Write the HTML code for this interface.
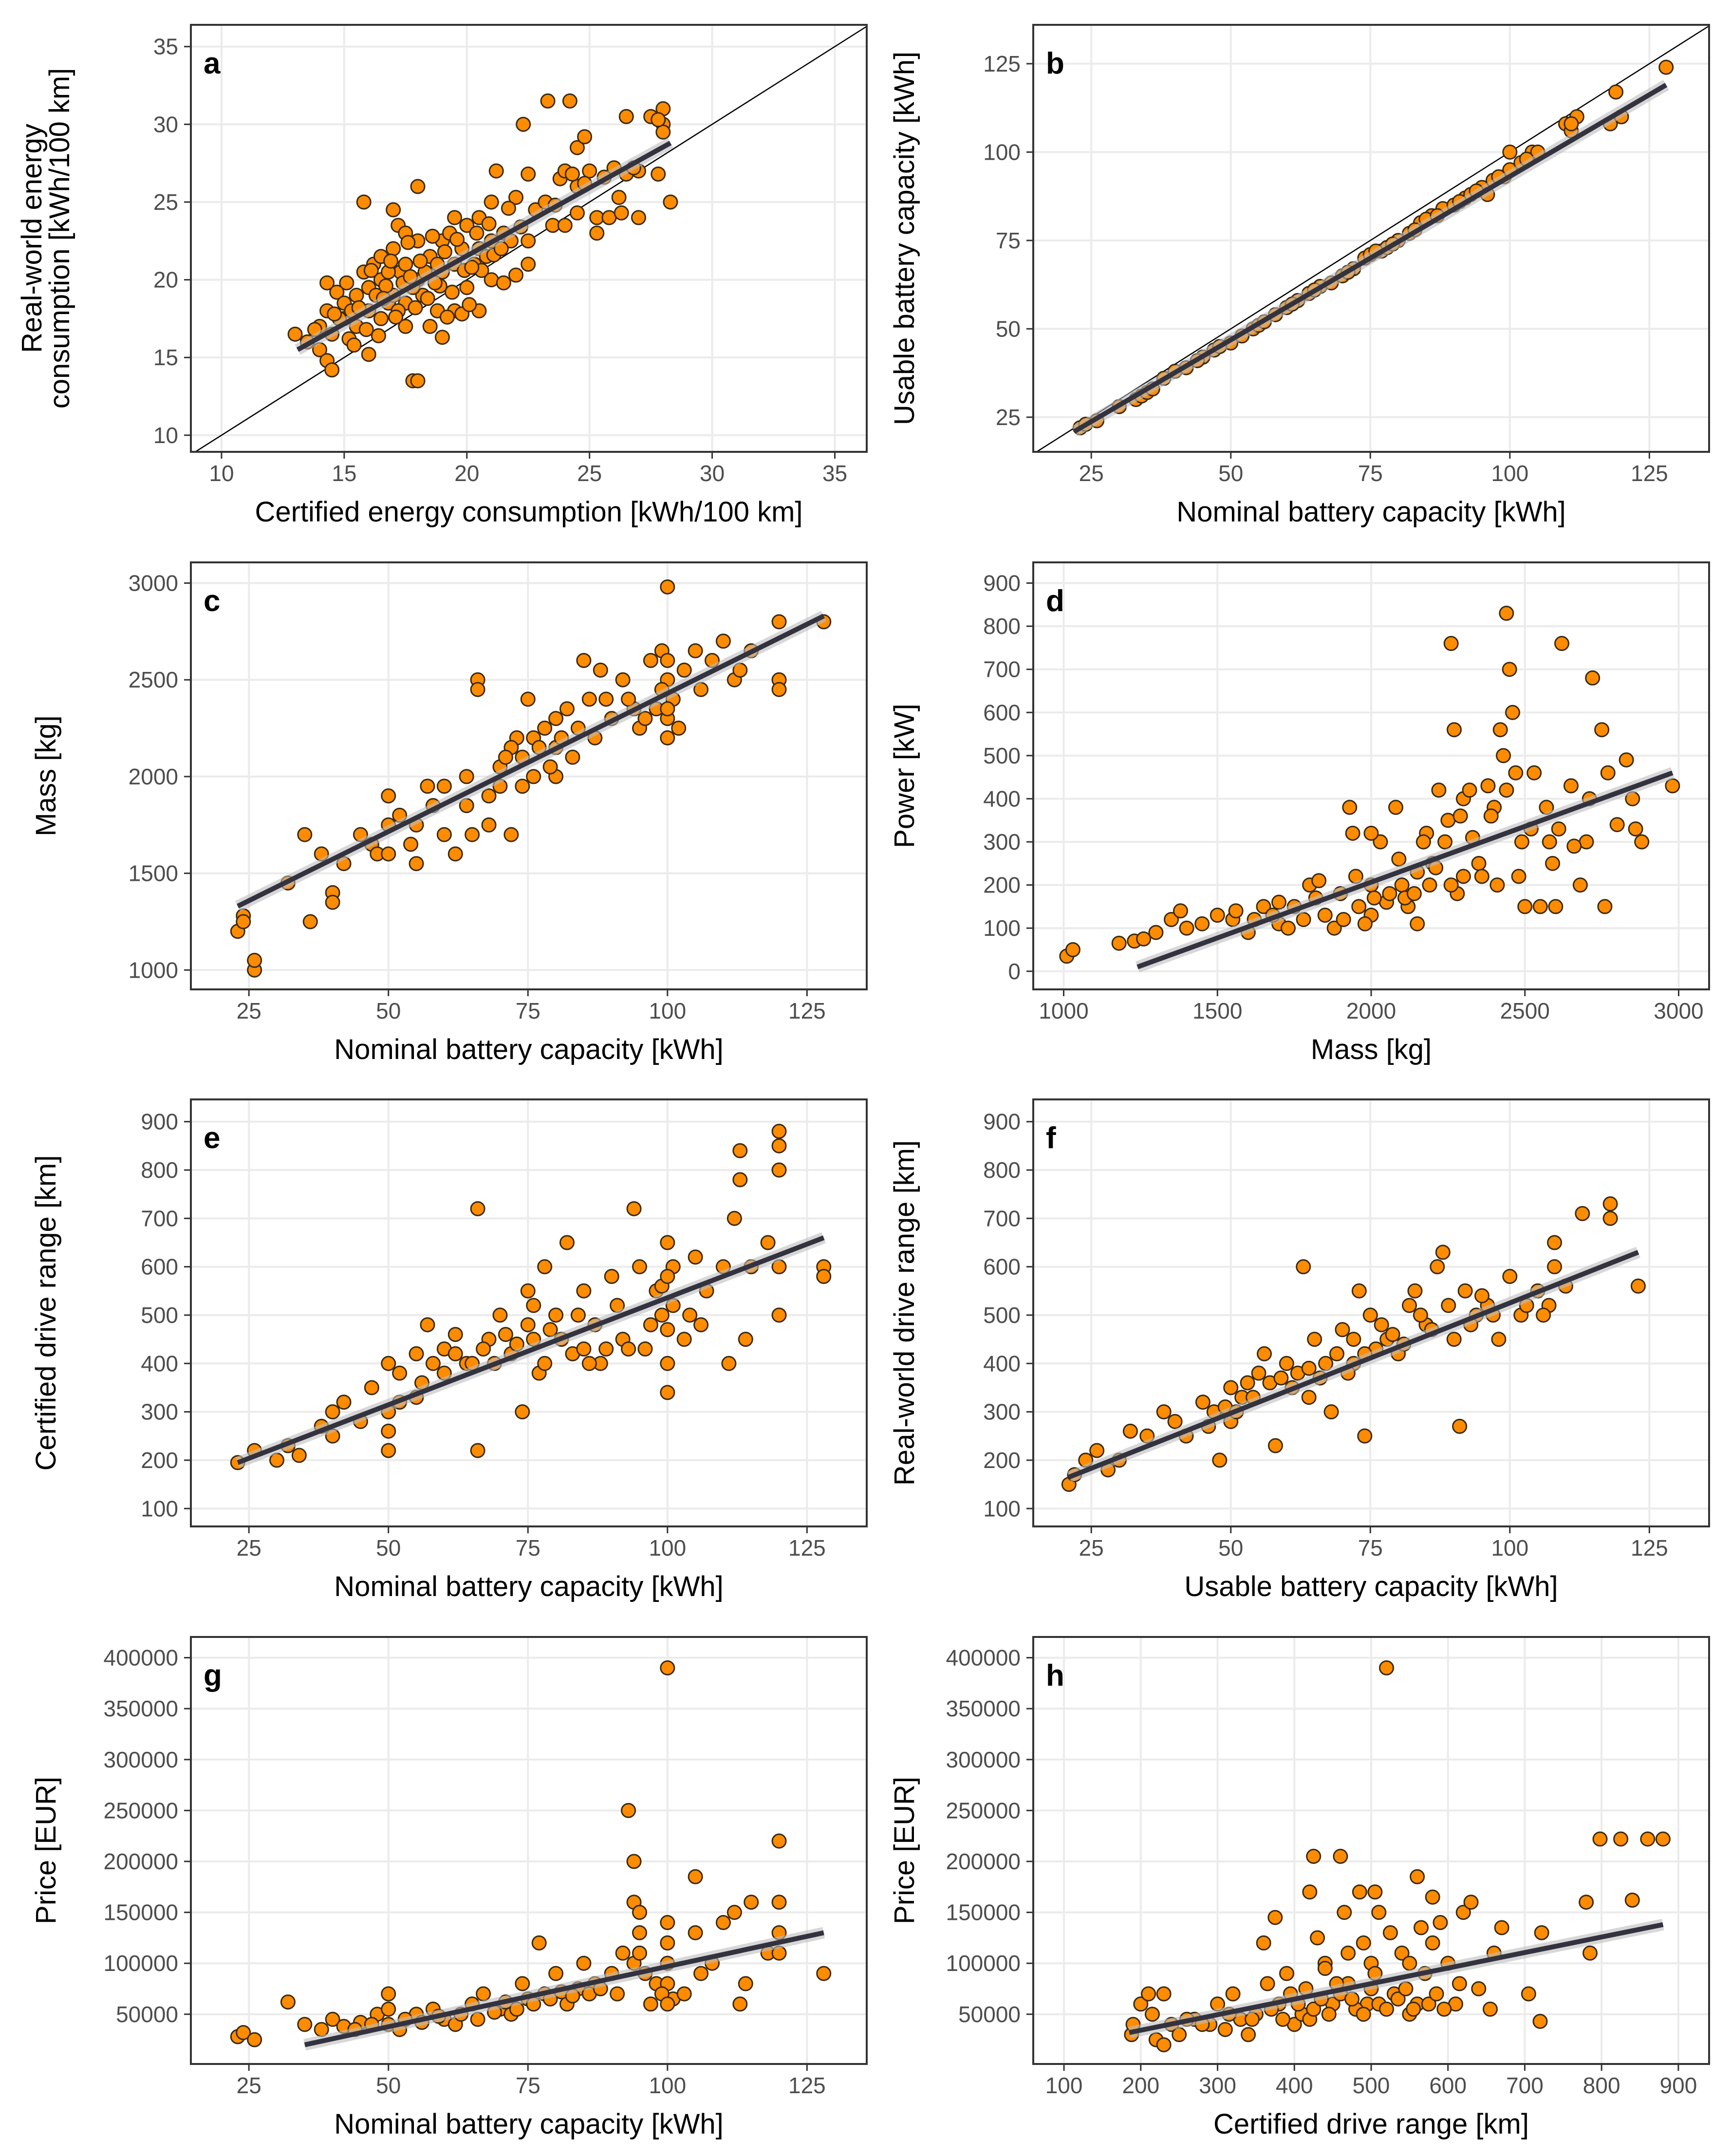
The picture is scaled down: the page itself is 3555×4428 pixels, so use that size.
<!DOCTYPE html>
<html><head><meta charset="utf-8"><style>
html,body{margin:0;padding:0;background:#fff;}
svg{display:block;}
text{font-family:"Liberation Sans Narrow","Liberation Sans",sans-serif;}
</style></head><body>
<svg id="fig" width="3555" height="4428" viewBox="0 0 3555 4428" xmlns="http://www.w3.org/2000/svg"></svg>
<script>
const ptsA=[[13,16.5],[13.5,16],[14,17],[14,15.5],[14.3,14.8],[14.5,14.2],[14.5,16.5],[14.3,18],[14.3,19.8],[14.7,19.2],[15,17.5],[15,18.5],[15.2,16.2],[15.5,17],[15.5,19],[15.8,20.5],[15.8,25],[16,15.2],[16,18],[16,19.5],[16.2,21],[16.5,17.5],[16.5,20],[16.5,21.5],[16.8,18.5],[17,19],[17,24.5],[17,22],[17.2,23.5],[17.3,20.5],[17.5,17],[17.5,18.5],[17.5,21],[17.5,23],[17.8,13.5],[18,13.5],[18,26],[18,20],[18,22.5],[18.2,19],[18.5,21.5],[18.5,17],[18.8,18],[19,16.3],[19,20.5],[19,22.5],[19.3,23],[19.5,24],[19.5,21],[19.5,18],[19.8,17.8],[20,19.5],[20,23.5],[20.3,21],[20.5,18],[20.5,22],[20.5,24],[21,20],[21,22.5],[21,25],[21.2,27],[21.5,19.8],[21.5,23],[21.8,22.5],[22,20.3],[22,25.3],[22.3,30],[22.5,21],[22.5,22.5],[22.5,26.8],[23.3,31.5],[23.5,23.5],[23.8,26.5],[24,27],[24,23.5],[24.2,31.5],[24.5,24.3],[24.5,26],[24.5,28.5],[24.8,29.2],[25,27],[25.3,24],[25.3,23],[25.8,24],[26,27.2],[26.2,25.3],[26.3,24.3],[26.5,30.5],[26.5,26.8],[27,27],[27,24],[27.5,30.5],[27.8,26.8],[28,31],[28,30],[28,29.5],[28.3,25],[27.8,30.3],[15.3,18],[16.8,20.5],[17.8,19.5],[18.8,21],[19.8,22],[20.8,21.5],[16.3,19],[14.8,17.5],[17.2,18],[18.3,20.5],[13.8,16.8],[14.6,17.8],[15.1,19.8],[15.6,18.2],[15.9,16.8],[16.1,20.6],[16.4,16.4],[16.7,19.6],[16.9,21.2],[17.1,17.6],[17.4,19.8],[17.6,22.4],[17.9,18.2],[18.1,21.2],[18.4,18.8],[18.6,22.8],[18.9,19.6],[19.1,21.8],[19.4,19.2],[19.6,22.6],[19.9,20.6],[20.1,18.4],[20.4,23],[20.6,20.6],[20.9,23.6],[21.1,21.6],[21.4,22],[21.7,24.6],[22.2,23.4],[22.8,24.5],[23.2,25],[23.6,24.8],[24.3,26.8],[24.8,26.2],[25.6,26.6],[26.8,27.2],[15.4,15.8],[16.6,18.8],[17.7,20.2],[18.7,19.8],[19.2,17.6],[20.2,20.8]];
const fitA=[[13.1,15.5],[28.3,28.8]];
const ptsB=[[23,22],[24,23],[26,24],[30,28],[33,30],[34,31],[35,32],[38,36],[40,38],[42,39],[45,42],[47,44],[50,46],[52,48],[54,50],[55,51],[58,54],[60,56],[62,58],[64,60],[66,62],[68,63],[70,65],[72,67],[74,70],[75,71],[77,72],[78,73],[80,75],[82,77],[84,80],[86,82],[88,84],[90,85],[92,87],[93,88],[95,90],[97,92],[99,93],[100,95],[100,100],[102,97],[104,100],[105,100],[110,108],[111,106],[112,110],[118,108],[119,117],[120,110],[128,124],[111,108],[96,88],[85,81],[36,33],[44,41],[48,45],[56,52],[61,57],[65,61],[71,66],[76,72],[79,74],[83,78],[87,82],[91,86],[94,89],[98,93],[103,98]];
const fitB=[[22,21],[128,119]];
const ptsC=[[23,1200],[24,1280],[24,1250],[26,1000],[26,1050],[32,1450],[35,1700],[36,1250],[38,1600],[40,1400],[40,1350],[42,1550],[45,1700],[47,1650],[48,1600],[50,1900],[50,1750],[50,1600],[52,1800],[54,1650],[55,1550],[55,1750],[57,1950],[58,1850],[60,1950],[60,1700],[62,1600],[64,2000],[65,1700],[66,2500],[66,2450],[68,1750],[70,2050],[70,1950],[72,1700],[73,2200],[74,2100],[75,2400],[76,2000],[76,2200],[78,2250],[80,2300],[80,2150],[82,2350],[83,2100],[85,2600],[86,2400],[87,2200],[88,2550],[90,2300],[92,2500],[94,2350],[95,2250],[97,2600],[99,2650],[100,2980],[100,2500],[100,2300],[100,2200],[101,2400],[102,2250],[103,2550],[105,2650],[106,2450],[108,2600],[110,2700],[112,2500],[113,2550],[115,2650],[120,2800],[120,2500],[120,2450],[128,2800],[80,2000],[72,2150],[64,1850],[68,1900],[71,2100],[74,1950],[77,2150],[79,2050],[81,2200],[84,2250],[89,2400],[93,2400],[98,2350],[99,2450],[100,2600],[100,2350],[96,2300]];
const fitC=[[23,1330],[128,2830]];
const ptsD=[[1010,35],[1030,50],[1180,65],[1230,70],[1260,75],[1300,90],[1350,120],[1380,140],[1400,100],[1450,110],[1500,130],[1550,120],[1600,90],[1650,150],[1700,110],[1750,150],[1800,200],[1820,170],[1850,130],[1900,180],[1930,380],[1950,220],[2000,200],[2000,130],[2030,300],[2050,160],[2080,380],[2100,200],[2120,150],[2150,230],[2180,320],[2200,250],[2220,420],[2250,350],[2260,760],[2270,560],[2280,180],[2300,400],[2330,310],[2350,250],[2380,430],[2400,380],[2420,560],[2430,500],[2440,830],[2450,700],[2460,600],[2470,460],[2480,220],[2500,150],[2520,330],[2550,150],[2580,300],[2600,150],[2620,760],[2650,430],[2680,200],[2700,300],[2720,680],[2750,560],[2760,150],[2770,460],[2800,340],[2830,490],[2850,400],[2860,330],[2880,300],[2980,430],[2150,110],[1700,160],[2300,220],[1560,140],[1620,120],[1680,130],[1730,100],[1780,120],[1830,210],[1880,100],[1960,150],[1980,110],[2010,170],[2060,180],[2090,260],[2110,170],[2140,180],[2170,300],[2190,200],[2210,240],[2240,300],[2260,200],[2290,360],[2320,420],[2360,220],[2390,360],[2410,200],[2440,420],[2490,300],[2530,460],[2570,380],[2590,250],[2610,330],[2660,290],[2710,400],[1910,120],[1940,320],[2000,320]];
const fitD=[[1240,10],[2980,460]];
const ptsE=[[23,195],[26,220],[30,200],[32,230],[34,210],[38,270],[40,300],[40,250],[42,320],[45,280],[47,350],[50,400],[50,300],[50,220],[52,380],[55,420],[55,330],[57,480],[58,400],[60,430],[62,460],[64,400],[66,720],[66,220],[68,450],[70,500],[72,420],[74,300],[75,550],[76,450],[77,380],[78,600],[80,500],[82,650],[83,420],[85,550],[87,480],[88,400],[90,580],[92,450],[94,720],[95,600],[96,430],[98,550],[99,500],[100,650],[100,400],[100,340],[101,600],[103,450],[105,620],[107,550],[110,600],[112,700],[113,840],[113,780],[114,450],[115,600],[118,650],[120,880],[120,850],[120,800],[120,600],[120,500],[128,600],[128,580],[65,400],[85,430],[50,260],[52,320],[56,360],[60,380],[62,420],[67,430],[69,400],[71,460],[73,440],[75,480],[76,520],[78,400],[79,470],[81,450],[84,500],[86,400],[89,430],[91,520],[93,430],[97,480],[99,560],[100,580],[100,470],[101,520],[104,500],[106,480],[111,400]];
const fitE=[[23,195],[128,660]];
const ptsF=[[21,150],[22,170],[24,200],[26,220],[28,180],[30,200],[32,260],[35,250],[38,300],[40,280],[42,250],[45,320],[47,300],[48,200],[50,350],[50,280],[52,330],[55,380],[56,420],[57,360],[58,230],[60,400],[62,380],[63,600],[64,330],[65,450],[67,400],[68,300],[70,470],[72,400],[73,550],[74,250],[75,500],[76,430],[78,450],[80,420],[82,520],[83,550],[85,480],[87,600],[88,630],[90,450],[91,270],[92,550],[94,500],[96,520],[98,450],[100,580],[102,500],[105,550],[107,520],[108,600],[108,650],[110,560],[113,710],[118,730],[118,700],[123,560],[46,270],[49,310],[51,300],[53,360],[54,330],[59,370],[61,350],[64,390],[66,370],[69,420],[71,380],[72,450],[74,420],[77,480],[79,460],[81,440],[84,500],[86,470],[89,520],[93,480],[95,540],[97,500],[103,520],[106,500]];
const fitF=[[21,165],[123,630]];
const ptsG=[[23,28000],[24,32000],[26,25000],[32,62000],[35,40000],[38,35000],[40,45000],[42,38000],[45,42000],[48,50000],[50,70000],[50,40000],[52,35000],[55,50000],[58,55000],[60,45000],[62,40000],[65,60000],[67,70000],[70,55000],[72,50000],[74,80000],[75,65000],[77,120000],[78,70000],[80,90000],[82,60000],[84,75000],[85,100000],[87,80000],[90,90000],[92,110000],[93,250000],[94,200000],[94,160000],[95,130000],[95,150000],[96,90000],[97,60000],[98,80000],[100,390000],[100,140000],[100,120000],[100,100000],[100,80000],[101,65000],[103,70000],[105,185000],[105,130000],[106,90000],[108,100000],[110,140000],[112,150000],[113,60000],[114,80000],[115,160000],[118,110000],[120,220000],[120,160000],[120,130000],[120,110000],[128,90000],[44,35000],[47,40000],[50,55000],[53,45000],[56,42000],[59,48000],[63,50000],[66,45000],[69,52000],[71,62000],[73,55000],[76,60000],[79,65000],[81,72000],[83,68000],[86,70000],[88,75000],[91,70000],[94,100000],[95,110000],[99,70000],[100,60000]];
const fitG=[[35,20000],[128,130000]];
const ptsH=[[188,30000],[190,40000],[200,60000],[210,70000],[215,50000],[220,25000],[230,70000],[230,20000],[240,40000],[250,30000],[270,45000],[290,40000],[300,60000],[310,35000],[320,70000],[330,45000],[340,30000],[350,50000],[360,120000],[365,80000],[375,145000],[380,60000],[390,90000],[400,40000],[410,50000],[420,170000],[425,205000],[430,125000],[440,100000],[450,60000],[460,205000],[465,150000],[470,80000],[485,170000],[490,120000],[495,60000],[500,100000],[505,170000],[510,150000],[520,390000],[525,130000],[530,70000],[540,110000],[550,50000],[560,185000],[565,135000],[570,90000],[580,165000],[590,140000],[600,100000],[610,60000],[620,150000],[630,160000],[640,75000],[655,55000],[660,110000],[670,135000],[705,70000],[720,43000],[722,130000],[780,160000],[785,110000],[798,222000],[825,222000],[840,162000],[860,222000],[880,222000],[420,45000],[480,55000],[560,60000],[460,70000],[260,45000],[280,40000],[315,50000],[345,45000],[370,55000],[385,45000],[395,70000],[405,60000],[415,75000],[425,55000],[435,65000],[445,50000],[455,80000],[475,65000],[490,50000],[500,75000],[510,60000],[520,55000],[535,65000],[545,75000],[555,55000],[575,60000],[585,70000],[595,55000],[615,80000],[440,95000],[470,110000],[505,90000],[550,100000],[580,120000]];
const fitH=[[185,32000],[880,138000]];
const ticksA=[10,15,20,25,30,35];
const ticksCap=[25,50,75,100,125];
const ticksMass=[1000,1500,2000,2500,3000];
const ticksPow=[0,100,200,300,400,500,600,700,800,900];
const ticksRange=[100,200,300,400,500,600,700,800,900];
const ticksPrice=[50000,100000,150000,200000,250000,300000,350000,400000];

const NS='http://www.w3.org/2000/svg';
const svg=document.getElementById('fig');
function mk(tag,attrs,parent){const e=document.createElementNS(NS,tag);for(const k in attrs)e.setAttribute(k,attrs[k]);(parent||svg).appendChild(e);return e;}
const COLS=[392,2122],ROWS=[51,1155,2258,3362],W=1388,H=877;
const panels=[
 {id:'a',c:0,r:0,xd:[8.75,36.3],yd:[8.93,36.4],xt:ticksA,yt:ticksA,pts:ptsA,fit:fitA,xl:'Certified energy consumption [kWh/100 km]',yl:['Real-world energy','consumption [kWh/100 km]'],diag:true},
 {id:'b',c:1,r:0,xd:[14.6,135.7],yd:[15.2,136],xt:ticksCap,yt:ticksCap,pts:ptsB,fit:fitB,xl:'Nominal battery capacity [kWh]',yl:['Usable battery capacity [kWh]'],diag:true},
 {id:'c',c:0,r:1,xd:[14.6,135.7],yd:[900,3107],xt:ticksCap,yt:[1000,1500,2000,2500,3000],pts:ptsC,fit:fitC,xl:'Nominal battery capacity [kWh]',yl:['Mass [kg]']},
 {id:'d',c:1,r:1,xd:[901,3099],yd:[-42,948],xt:ticksMass,yt:ticksPow,pts:ptsD,fit:fitD,xl:'Mass [kg]',yl:['Power [kW]']},
 {id:'e',c:0,r:2,xd:[14.6,135.7],yd:[63,946],xt:ticksCap,yt:ticksPow.slice(1),pts:ptsE,fit:fitE,xl:'Nominal battery capacity [kWh]',yl:['Certified drive range [km]']},
 {id:'f',c:1,r:2,xd:[14.6,135.7],yd:[63,946],xt:ticksCap,yt:ticksPow.slice(1),pts:ptsF,fit:fitF,xl:'Usable battery capacity [kWh]',yl:['Real-world drive range [km]']},
 {id:'g',c:0,r:3,xd:[14.6,135.7],yd:[1163,420349],xt:ticksCap,yt:ticksPrice,pts:ptsG,fit:fitG,xl:'Nominal battery capacity [kWh]',yl:['Price [EUR]']},
 {id:'h',c:1,r:3,xd:[60,940],yd:[1163,420349],xt:ticksRange,yt:ticksPrice,pts:ptsH,fit:fitH,xl:'Certified drive range [km]',yl:['Price [EUR]']}
];
panels.forEach(p=>{
 const L=COLS[p.c],T=ROWS[p.r];
 const sx=v=>L+(v-p.xd[0])/(p.xd[1]-p.xd[0])*W;
 const sy=v=>T+H-(v-p.yd[0])/(p.yd[1]-p.yd[0])*H;
 const g=mk('g',{});
 
 
 mk('rect',{x:L,y:T,width:W,height:H,fill:'#fff'},g);
 p.xt.forEach(t=>{const x=sx(t);
  const gl=mk('line',{x1:x,x2:x,y1:T,y2:T+H,stroke:'#ebebeb','stroke-width':4},g);
  
  mk('line',{x1:x,x2:x,y1:T+H,y2:T+H+14,stroke:'#333','stroke-width':3},g);
  const tx=mk('text',{x:x,y:T+H+60,'text-anchor':'middle','font-size':46,fill:'#4d4d4d'},g);tx.textContent=t;
  
 });
 p.yt.forEach(t=>{const y=sy(t);
  const gl=mk('line',{x1:L,x2:L+W,y1:y,y2:y,stroke:'#ebebeb','stroke-width':4},g);
  
  mk('line',{x1:L-14,x2:L,y1:y,y2:y,stroke:'#333','stroke-width':3},g);
  const tx=mk('text',{x:L-26,y:y+16,'text-anchor':'end','font-size':46,fill:'#4d4d4d'},g);tx.textContent=t;
  
 });
 const clip=mk('clipPath',{id:'clip'+p.id},g);mk('rect',{x:L,y:T,width:W,height:H},clip);
 const inner=mk('g',{'clip-path':'url(#clip'+p.id+')'},g);
 if(p.diag){const lo=Math.min(p.xd[0],p.yd[0]),hi=Math.max(p.xd[1],p.yd[1]);
  const d=mk('line',{x1:sx(lo),y1:sy(lo),x2:sx(hi),y2:sy(hi),stroke:'#000','stroke-width':2.5},inner);
  }
 p.pts.forEach(pt=>{
  const c=mk('circle',{cx:sx(pt[0]),cy:sy(pt[1]),r:14,fill:'#ff8c00',stroke:'#3a2a10','stroke-width':3},inner);
  
 });
 const rb=mk('line',{x1:sx(p.fit[0][0]),y1:sy(p.fit[0][1]),x2:sx(p.fit[1][0]),y2:sy(p.fit[1][1]),stroke:'#bdbdbd','stroke-opacity':0.6,'stroke-width':24},inner);
 
 const fl=mk('line',{x1:sx(p.fit[0][0]),y1:sy(p.fit[0][1]),x2:sx(p.fit[1][0]),y2:sy(p.fit[1][1]),stroke:'#333340','stroke-width':10},inner);
 
 mk('rect',{x:L,y:T,width:W,height:H,fill:'none',stroke:'#333','stroke-width':4},g);
 const lt=mk('text',{x:L+26,y:T+100,'font-size':62,'font-weight':'bold',fill:'#000'},g);lt.textContent=p.id;
 
 const xl=mk('text',{x:L+W/2,y:T+H+143,'text-anchor':'middle','font-size':58,fill:'#000'},g);xl.textContent=p.xl;
 
 const cy=T+H/2;
 p.yl.forEach((s,i)=>{
  const n=p.yl.length;const xx=(p.c===0?(n===2?85+i*57:114):1877);
  const yl=mk('text',{x:xx,y:cy,'text-anchor':'middle','font-size':58,fill:'#000',transform:'rotate(-90 '+xx+' '+cy+')'},g);
  yl.textContent=s;
  
 });
});
</script>
</body></html>
